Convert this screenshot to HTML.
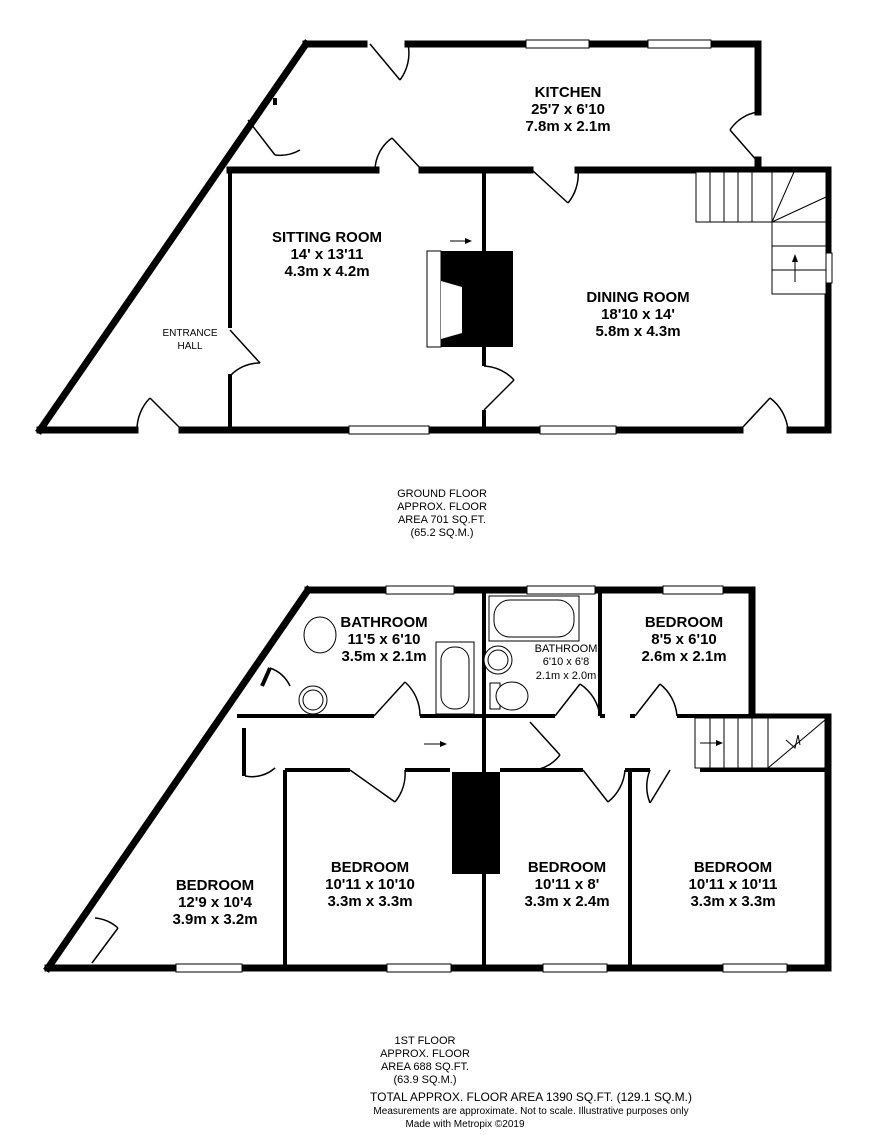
<!DOCTYPE html>
<html><head><meta charset="utf-8"><style>
body{margin:0;background:#fff}
svg{display:block}
text{font-family:"Liberation Sans",sans-serif;fill:#000}
.t{font-size:15px;font-weight:bold;text-anchor:middle}
.s{font-size:10px;text-anchor:middle}
</style></head><body>
<svg width="886" height="1135" viewBox="0 0 886 1135" xmlns="http://www.w3.org/2000/svg">
<g stroke="#000" stroke-width="7" fill="none" stroke-linecap="square">
<line x1="40" y1="430" x2="306" y2="44"/>
<line x1="306" y1="44" x2="364" y2="44"/>
<line x1="408" y1="44" x2="758" y2="44"/>
<line x1="758" y1="44" x2="758" y2="112"/>
<line x1="758" y1="160" x2="758" y2="170"/>
<line x1="40" y1="430" x2="135" y2="430"/>
<line x1="182" y1="430" x2="740" y2="430"/>
<line x1="790" y1="430" x2="828" y2="430"/>
<line x1="828" y1="170" x2="828" y2="430"/>
<line x1="758" y1="170" x2="828" y2="170"/>
<line x1="230" y1="170" x2="376" y2="170"/>
<line x1="422" y1="170" x2="530" y2="170"/>
<line x1="578" y1="170" x2="758" y2="170"/>
</g>
<g stroke="#000" stroke-width="4" fill="none">
<line x1="230" y1="170" x2="230" y2="328"/>
<line x1="230" y1="374" x2="230" y2="430"/>
<line x1="484" y1="170" x2="484" y2="252"/>
<line x1="484" y1="345" x2="484" y2="366"/>
<line x1="484" y1="410" x2="484" y2="430"/>
<line x1="275" y1="98" x2="275" y2="105"/>
</g>
<g fill="#fff" stroke="#000" stroke-width="1">
<rect x="526" y="40" width="63" height="8"/>
<rect x="648" y="40" width="63" height="8"/>
<rect x="349" y="426" width="80" height="8"/>
<rect x="540" y="426" width="76" height="8"/>
<rect x="824" y="253" width="8" height="30"/>
</g>
<rect x="441" y="251" width="72" height="96" fill="#000"/>
<rect x="427" y="251" width="14" height="96" fill="#fff" stroke="#000" stroke-width="1"/>
<polygon points="441,281 462,287 462,333 441,339" fill="#fff"/>
<g stroke="#000" stroke-width="1.5" fill="none">
<line x1="370" y1="44" x2="400" y2="80"/><path d="M400,80 A45,45 0 0 0 408,44"/>
<line x1="248" y1="120" x2="275" y2="155"/><path d="M275,155 A40,40 0 0 0 300,150"/>
<line x1="392" y1="138" x2="422" y2="170"/>
<path d="M375,170 A40,40 0 0 1 392,138"/>
<line x1="532" y1="170" x2="568" y2="203"/><path d="M568,203 A45,45 0 0 0 578,170"/>
<line x1="730" y1="130" x2="758" y2="162"/><path d="M730,130 A40,40 0 0 1 758,112"/>
<line x1="230" y1="330" x2="260" y2="363"/><path d="M230,376 A40,40 0 0 1 260,363"/>
<line x1="484" y1="410" x2="514" y2="380"/><path d="M484,366 A45,45 0 0 1 514,380"/>
<line x1="150" y1="398" x2="180" y2="428"/><path d="M137,430 A45,45 0 0 1 150,398"/>
<line x1="770" y1="398" x2="742" y2="428"/><path d="M770,398 A45,45 0 0 1 788,430"/>
</g>
<g stroke="#000" stroke-width="1" fill="#fff">
<rect x="696" y="172" width="130" height="50"/>
<rect x="772" y="222" width="54" height="72"/>
<line x1="710" y1="172" x2="710" y2="222"/><line x1="724" y1="172" x2="724" y2="222"/><line x1="738" y1="172" x2="738" y2="222"/><line x1="752" y1="172" x2="752" y2="222"/><line x1="772" y1="172" x2="772" y2="222"/>
<line x1="772" y1="222" x2="794" y2="172"/><line x1="772" y1="222" x2="826" y2="197"/>
<line x1="772" y1="246" x2="826" y2="246"/><line x1="772" y1="270" x2="826" y2="270"/>
<line x1="795" y1="282" x2="795" y2="258"/>
<line x1="450" y1="241" x2="470" y2="241"/>
</g>
<polygon points="795,254 792,262 798,262" fill="#000"/>
<polygon points="472,241 465,238 465,244" fill="#000"/>
<text class="t" x="568" y="97">KITCHEN</text>
<text class="t" x="568" y="114">25'7 x 6'10</text>
<text class="t" x="568" y="131">7.8m x 2.1m</text>
<text class="t" x="327" y="242">SITTING ROOM</text>
<text class="t" x="327" y="259">14' x 13'11</text>
<text class="t" x="327" y="276">4.3m x 4.2m</text>
<text class="t" x="638" y="302">DINING ROOM</text>
<text class="t" x="638" y="319">18'10 x 14'</text>
<text class="t" x="638" y="336">5.8m x 4.3m</text>
<text class="s" x="190" y="336">ENTRANCE</text>
<text class="s" x="190" y="349">HALL</text>
<g font-size="11" text-anchor="middle">
<text x="442" y="497">GROUND FLOOR</text><text x="442" y="510">APPROX. FLOOR</text><text x="442" y="523">AREA 701 SQ.FT.</text><text x="442" y="536">(65.2 SQ.M.)</text>
</g>
<g stroke="#000" stroke-width="7" fill="none" stroke-linecap="square">
<line x1="48" y1="968" x2="308" y2="590"/>
<line x1="308" y1="590" x2="752" y2="590"/>
<line x1="752" y1="590" x2="752" y2="717"/>
<line x1="752" y1="717" x2="828" y2="717"/>
<line x1="828" y1="717" x2="828" y2="968"/>
<line x1="48" y1="968" x2="828" y2="968"/>
</g>
<g stroke="#000" stroke-width="4" fill="none">
<line x1="237" y1="716" x2="374" y2="716"/>
<line x1="420" y1="716" x2="555" y2="716"/>
<line x1="600" y1="716" x2="605" y2="716"/>
<line x1="630" y1="716" x2="635" y2="716"/>
<line x1="677" y1="716" x2="752" y2="716"/>
<line x1="484" y1="590" x2="484" y2="770"/>
<line x1="600" y1="590" x2="600" y2="716"/>
<line x1="285" y1="770" x2="350" y2="770"/>
<line x1="405" y1="770" x2="450" y2="770"/>
<line x1="500" y1="770" x2="583" y2="770"/>
<line x1="625" y1="770" x2="650" y2="770"/>
<line x1="700" y1="770" x2="828" y2="770"/>
<line x1="285" y1="770" x2="285" y2="968"/>
<line x1="484" y1="770" x2="484" y2="968"/>
<line x1="630" y1="770" x2="630" y2="968"/>
<line x1="244" y1="728" x2="244" y2="776"/>
<line x1="270" y1="668" x2="262" y2="686"/>
</g>
<rect x="452" y="772" width="48" height="102" fill="#000"/>
<g fill="#fff" stroke="#000" stroke-width="1">
<rect x="386" y="586" width="68" height="8"/>
<rect x="527" y="586" width="68" height="8"/>
<rect x="663" y="586" width="60" height="8"/>
<rect x="176" y="964" width="66" height="8"/>
<rect x="387" y="964" width="64" height="8"/>
<rect x="543" y="964" width="64" height="8"/>
<rect x="723" y="964" width="64" height="8"/>
</g>
<g stroke="#000" stroke-width="1" fill="#fff">
<rect x="436" y="642" width="38" height="72"/>
<rect x="441" y="647" width="28" height="62" rx="13"/>
<rect x="489" y="596" width="90" height="45"/>
<rect x="494" y="600" width="80" height="37" rx="16"/>
<circle cx="498" cy="660" r="14"/><circle cx="498" cy="660" r="10"/>
<rect x="490" y="683" width="10" height="26"/>
<ellipse cx="512" cy="696" rx="16" ry="14"/>
<ellipse cx="320" cy="635" rx="16" ry="18"/>
<circle cx="313" cy="700" r="14"/><circle cx="313" cy="700" r="10"/>
</g>
<g stroke="#000" stroke-width="1" fill="#fff">
<rect x="695" y="718" width="130" height="50"/>
<line x1="710" y1="718" x2="710" y2="768"/><line x1="724" y1="718" x2="724" y2="768"/><line x1="738" y1="718" x2="738" y2="768"/><line x1="752" y1="718" x2="752" y2="768"/><line x1="768" y1="718" x2="768" y2="768"/>
<line x1="768" y1="768" x2="825" y2="720"/>
<polyline points="786,740 795,748 798,735 800,745" fill="none"/>
<line x1="700" y1="743" x2="718" y2="743"/>
<line x1="424" y1="744" x2="440" y2="744"/>
</g>
<polygon points="723,743 716,740 716,746" fill="#000"/>
<polygon points="447,744 440,741 440,747" fill="#000"/>
<g stroke="#000" stroke-width="1.5" fill="none">
<line x1="374" y1="716" x2="405" y2="682"/><path d="M405,682 A45,45 0 0 1 420,716"/>
<line x1="555" y1="716" x2="580" y2="684"/><path d="M580,684 A45,45 0 0 1 600,716"/>
<line x1="635" y1="716" x2="660" y2="684"/><path d="M660,684 A45,45 0 0 1 677,716"/>
<line x1="530" y1="722" x2="560" y2="755"/><path d="M560,755 A40,40 0 0 1 535,770"/>
<line x1="350" y1="770" x2="395" y2="802"/><path d="M395,802 A45,45 0 0 0 405,770"/>
<line x1="583" y1="770" x2="608" y2="802"/><path d="M608,802 A45,45 0 0 0 625,770"/>
<line x1="670" y1="770" x2="650" y2="803"/><path d="M650,803 A45,45 0 0 1 650,770"/>
<path d="M245,776 A35,35 0 0 0 275,768"/>
<line x1="92" y1="963" x2="118" y2="928"/><path d="M95,918 A40,40 0 0 1 118,928"/>
<path d="M270,668 A35,35 0 0 1 290,686"/>
</g>
<text class="t" x="384" y="627">BATHROOM</text>
<text class="t" x="384" y="644">11'5 x 6'10</text>
<text class="t" x="384" y="661">3.5m x 2.1m</text>
<g font-size="11" text-anchor="middle"><text x="566" y="652">BATHROOM</text><text x="566" y="665">6'10 x 6'8</text><text x="566" y="679">2.1m x 2.0m</text></g>
<text class="t" x="684" y="627">BEDROOM</text>
<text class="t" x="684" y="644">8'5 x 6'10</text>
<text class="t" x="684" y="661">2.6m x 2.1m</text>
<text class="t" x="215" y="890">BEDROOM</text>
<text class="t" x="215" y="907">12'9 x 10'4</text>
<text class="t" x="215" y="924">3.9m x 3.2m</text>
<text class="t" x="370" y="872">BEDROOM</text>
<text class="t" x="370" y="889">10'11 x 10'10</text>
<text class="t" x="370" y="906">3.3m x 3.3m</text>
<text class="t" x="567" y="872">BEDROOM</text>
<text class="t" x="567" y="889">10'11 x 8'</text>
<text class="t" x="567" y="906">3.3m x 2.4m</text>
<text class="t" x="733" y="872">BEDROOM</text>
<text class="t" x="733" y="889">10'11 x 10'11</text>
<text class="t" x="733" y="906">3.3m x 3.3m</text>
<g font-size="11" text-anchor="middle">
<text x="425" y="1044">1ST FLOOR</text><text x="425" y="1057">APPROX. FLOOR</text><text x="425" y="1070">AREA 688 SQ.FT.</text><text x="425" y="1083">(63.9 SQ.M.)</text>
<text x="531" y="1101" font-size="12">TOTAL APPROX. FLOOR AREA 1390 SQ.FT. (129.1 SQ.M.)</text>
<text x="531" y="1114" font-size="10">Measurements are approximate.  Not to scale.  Illustrative purposes only</text>
<text x="465" y="1127" font-size="10">Made with Metropix ©2019</text>
</g>
</svg>
</body></html>
